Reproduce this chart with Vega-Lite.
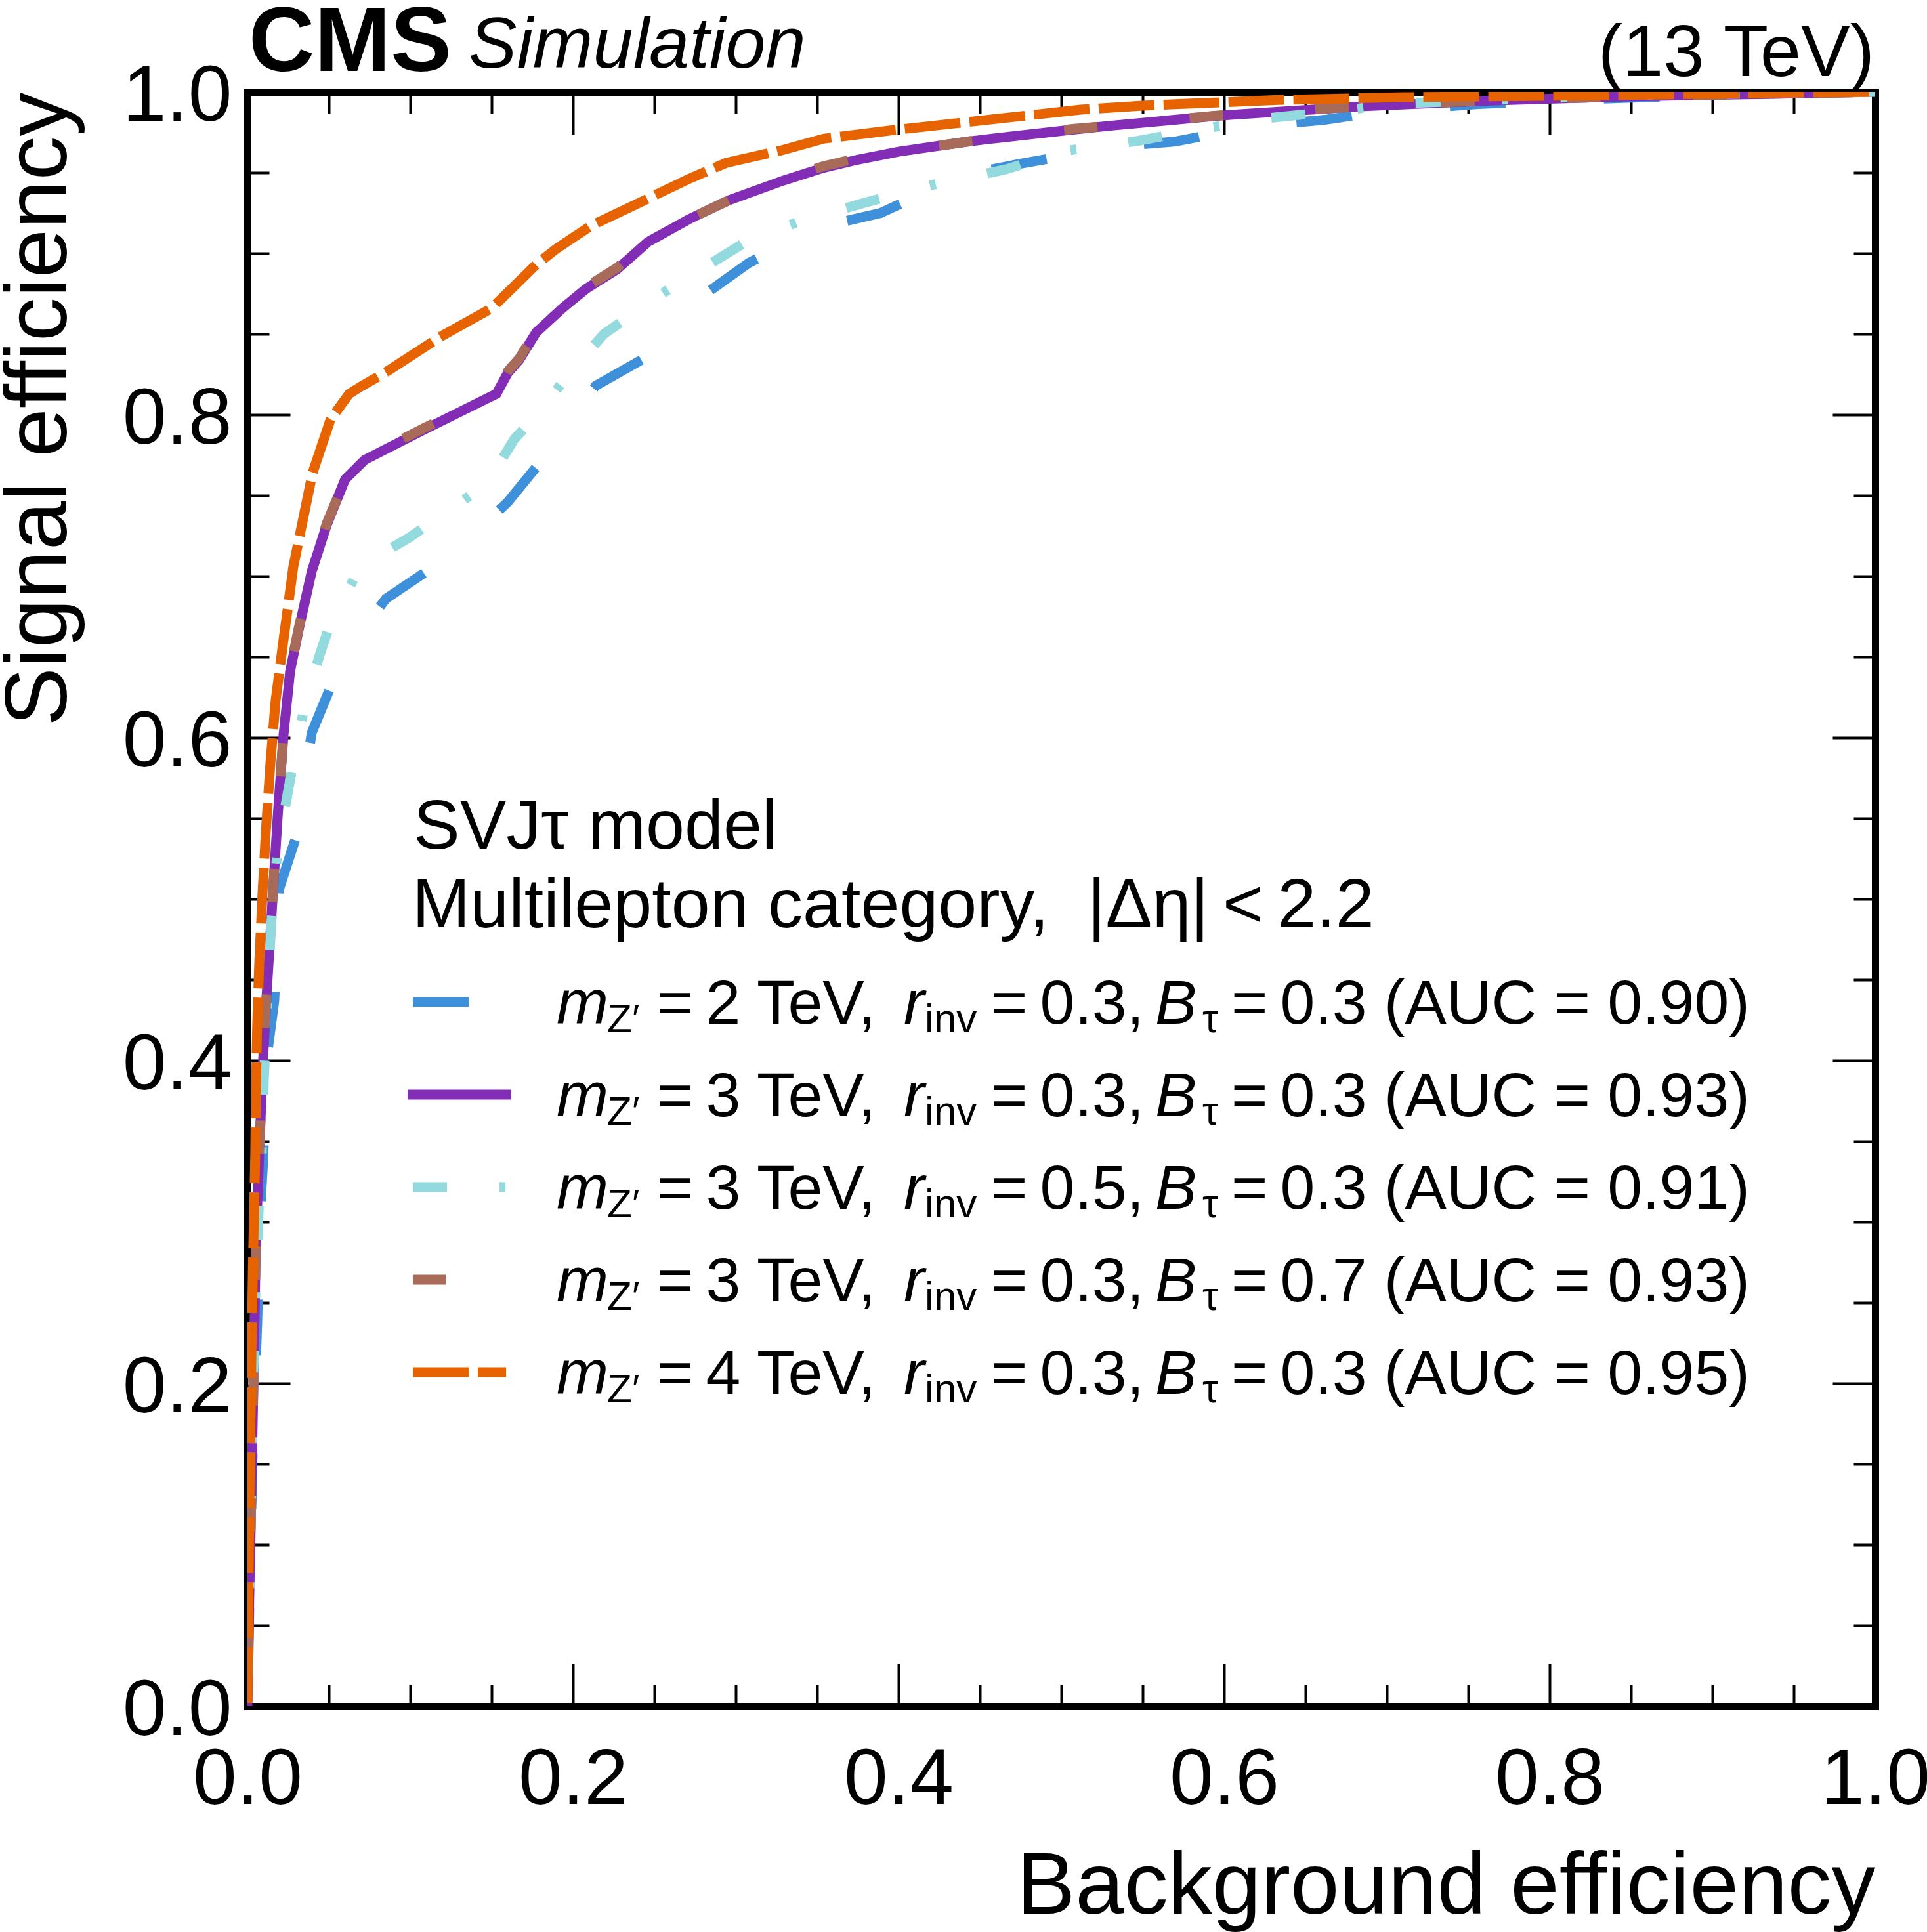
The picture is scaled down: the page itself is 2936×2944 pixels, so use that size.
{
    "$schema": "https://vega.github.io/schema/vega-lite/v6.json",
    "autosize": {"type": "none"},
    "padding": {"left": 377, "top": 140, "right": 79, "bottom": 344},
    "width": 2480,
    "height": 2460,
    "background": "white",
    "datasets": {
        "roc": [
            {"series": "mz2_rinv03_bt03", "x": 0, "y": 0},
            {"series": "mz2_rinv03_bt03", "x": 0.0008, "y": 0.04},
            {"series": "mz2_rinv03_bt03", "x": 0.0015, "y": 0.08},
            {"series": "mz2_rinv03_bt03", "x": 0.003, "y": 0.15},
            {"series": "mz2_rinv03_bt03", "x": 0.0048, "y": 0.203},
            {"series": "mz2_rinv03_bt03", "x": 0.006, "y": 0.237},
            {"series": "mz2_rinv03_bt03", "x": 0.0077, "y": 0.303},
            {"series": "mz2_rinv03_bt03", "x": 0.0095, "y": 0.335},
            {"series": "mz2_rinv03_bt03", "x": 0.0125, "y": 0.4065},
            {"series": "mz2_rinv03_bt03", "x": 0.0165, "y": 0.437},
            {"series": "mz2_rinv03_bt03", "x": 0.0194, "y": 0.506},
            {"series": "mz2_rinv03_bt03", "x": 0.0294, "y": 0.537},
            {"series": "mz2_rinv03_bt03", "x": 0.0395, "y": 0.603},
            {"series": "mz2_rinv03_bt03", "x": 0.0524, "y": 0.6346},
            {"series": "mz2_rinv03_bt03", "x": 0.068, "y": 0.663},
            {"series": "mz2_rinv03_bt03", "x": 0.085, "y": 0.686},
            {"series": "mz2_rinv03_bt03", "x": 0.113, "y": 0.705},
            {"series": "mz2_rinv03_bt03", "x": 0.137, "y": 0.724},
            {"series": "mz2_rinv03_bt03", "x": 0.16, "y": 0.746},
            {"series": "mz2_rinv03_bt03", "x": 0.181, "y": 0.772},
            {"series": "mz2_rinv03_bt03", "x": 0.198, "y": 0.797},
            {"series": "mz2_rinv03_bt03", "x": 0.214, "y": 0.818},
            {"series": "mz2_rinv03_bt03", "x": 0.242, "y": 0.834},
            {"series": "mz2_rinv03_bt03", "x": 0.262, "y": 0.856},
            {"series": "mz2_rinv03_bt03", "x": 0.283, "y": 0.876},
            {"series": "mz2_rinv03_bt03", "x": 0.308, "y": 0.894},
            {"series": "mz2_rinv03_bt03", "x": 0.333, "y": 0.907},
            {"series": "mz2_rinv03_bt03", "x": 0.358, "y": 0.9177},
            {"series": "mz2_rinv03_bt03", "x": 0.389, "y": 0.925},
            {"series": "mz2_rinv03_bt03", "x": 0.415, "y": 0.937},
            {"series": "mz2_rinv03_bt03", "x": 0.4435, "y": 0.9492},
            {"series": "mz2_rinv03_bt03", "x": 0.474, "y": 0.9553},
            {"series": "mz2_rinv03_bt03", "x": 0.505, "y": 0.961},
            {"series": "mz2_rinv03_bt03", "x": 0.5375, "y": 0.9665},
            {"series": "mz2_rinv03_bt03", "x": 0.57, "y": 0.9693},
            {"series": "mz2_rinv03_bt03", "x": 0.6, "y": 0.975},
            {"series": "mz2_rinv03_bt03", "x": 0.6315, "y": 0.9799},
            {"series": "mz2_rinv03_bt03", "x": 0.662, "y": 0.9827},
            {"series": "mz2_rinv03_bt03", "x": 0.69, "y": 0.987},
            {"series": "mz2_rinv03_bt03", "x": 0.7234, "y": 0.99},
            {"series": "mz2_rinv03_bt03", "x": 0.756, "y": 0.9925},
            {"series": "mz2_rinv03_bt03", "x": 0.79, "y": 0.994},
            {"series": "mz2_rinv03_bt03", "x": 0.822, "y": 0.9955},
            {"series": "mz2_rinv03_bt03", "x": 0.854, "y": 0.9965},
            {"series": "mz2_rinv03_bt03", "x": 0.92, "y": 0.9985},
            {"series": "mz2_rinv03_bt03", "x": 1, "y": 1},

            {"series": "mz3_rinv03_bt03", "x": 0, "y": 0},
            {"series": "mz3_rinv03_bt03", "x": 0.001, "y": 0.06},
            {"series": "mz3_rinv03_bt03", "x": 0.002, "y": 0.11},
            {"series": "mz3_rinv03_bt03", "x": 0.003, "y": 0.163},
            {"series": "mz3_rinv03_bt03", "x": 0.004, "y": 0.217},
            {"series": "mz3_rinv03_bt03", "x": 0.0052, "y": 0.29},
            {"series": "mz3_rinv03_bt03", "x": 0.0073, "y": 0.343},
            {"series": "mz3_rinv03_bt03", "x": 0.0093, "y": 0.3947},
            {"series": "mz3_rinv03_bt03", "x": 0.0121, "y": 0.446},
            {"series": "mz3_rinv03_bt03", "x": 0.0153, "y": 0.498},
            {"series": "mz3_rinv03_bt03", "x": 0.0185, "y": 0.55},
            {"series": "mz3_rinv03_bt03", "x": 0.0222, "y": 0.602},
            {"series": "mz3_rinv03_bt03", "x": 0.0262, "y": 0.641},
            {"series": "mz3_rinv03_bt03", "x": 0.0315, "y": 0.667},
            {"series": "mz3_rinv03_bt03", "x": 0.0395, "y": 0.703},
            {"series": "mz3_rinv03_bt03", "x": 0.0488, "y": 0.732},
            {"series": "mz3_rinv03_bt03", "x": 0.06, "y": 0.76},
            {"series": "mz3_rinv03_bt03", "x": 0.072, "y": 0.772},
            {"series": "mz3_rinv03_bt03", "x": 0.109, "y": 0.791},
            {"series": "mz3_rinv03_bt03", "x": 0.153, "y": 0.813},
            {"series": "mz3_rinv03_bt03", "x": 0.16, "y": 0.826},
            {"series": "mz3_rinv03_bt03", "x": 0.167, "y": 0.834},
            {"series": "mz3_rinv03_bt03", "x": 0.1774, "y": 0.851},
            {"series": "mz3_rinv03_bt03", "x": 0.1935, "y": 0.866},
            {"series": "mz3_rinv03_bt03", "x": 0.208, "y": 0.878},
            {"series": "mz3_rinv03_bt03", "x": 0.227, "y": 0.89},
            {"series": "mz3_rinv03_bt03", "x": 0.246, "y": 0.907},
            {"series": "mz3_rinv03_bt03", "x": 0.271, "y": 0.921},
            {"series": "mz3_rinv03_bt03", "x": 0.296, "y": 0.933},
            {"series": "mz3_rinv03_bt03", "x": 0.329, "y": 0.945},
            {"series": "mz3_rinv03_bt03", "x": 0.354, "y": 0.953},
            {"series": "mz3_rinv03_bt03", "x": 0.375, "y": 0.958},
            {"series": "mz3_rinv03_bt03", "x": 0.4, "y": 0.963},
            {"series": "mz3_rinv03_bt03", "x": 0.441, "y": 0.969},
            {"series": "mz3_rinv03_bt03", "x": 0.4528, "y": 0.9705},
            {"series": "mz3_rinv03_bt03", "x": 0.507, "y": 0.9766},
            {"series": "mz3_rinv03_bt03", "x": 0.53, "y": 0.979},
            {"series": "mz3_rinv03_bt03", "x": 0.594, "y": 0.985},
            {"series": "mz3_rinv03_bt03", "x": 0.607, "y": 0.986},
            {"series": "mz3_rinv03_bt03", "x": 0.684, "y": 0.991},
            {"series": "mz3_rinv03_bt03", "x": 0.761, "y": 0.9945},
            {"series": "mz3_rinv03_bt03", "x": 0.839, "y": 0.997},
            {"series": "mz3_rinv03_bt03", "x": 0.92, "y": 0.9985},
            {"series": "mz3_rinv03_bt03", "x": 1, "y": 1},

            {"series": "mz3_rinv05_bt03", "x": 0, "y": 0},
            {"series": "mz3_rinv05_bt03", "x": 0.001, "y": 0.05},
            {"series": "mz3_rinv05_bt03", "x": 0.002, "y": 0.12},
            {"series": "mz3_rinv05_bt03", "x": 0.0035, "y": 0.2},
            {"series": "mz3_rinv05_bt03", "x": 0.005, "y": 0.26},
            {"series": "mz3_rinv05_bt03", "x": 0.007, "y": 0.31},
            {"series": "mz3_rinv05_bt03", "x": 0.0088, "y": 0.343},
            {"series": "mz3_rinv05_bt03", "x": 0.0101, "y": 0.388},
            {"series": "mz3_rinv05_bt03", "x": 0.0121, "y": 0.435},
            {"series": "mz3_rinv05_bt03", "x": 0.0145, "y": 0.483},
            {"series": "mz3_rinv05_bt03", "x": 0.0185, "y": 0.531},
            {"series": "mz3_rinv05_bt03", "x": 0.0266, "y": 0.576},
            {"series": "mz3_rinv05_bt03", "x": 0.0355, "y": 0.6215},
            {"series": "mz3_rinv05_bt03", "x": 0.044, "y": 0.65},
            {"series": "mz3_rinv05_bt03", "x": 0.0496, "y": 0.667},
            {"series": "mz3_rinv05_bt03", "x": 0.0565, "y": 0.68},
            {"series": "mz3_rinv05_bt03", "x": 0.069, "y": 0.706},
            {"series": "mz3_rinv05_bt03", "x": 0.0996, "y": 0.724},
            {"series": "mz3_rinv05_bt03", "x": 0.118, "y": 0.737},
            {"series": "mz3_rinv05_bt03", "x": 0.147, "y": 0.757},
            {"series": "mz3_rinv05_bt03", "x": 0.164, "y": 0.785},
            {"series": "mz3_rinv05_bt03", "x": 0.178, "y": 0.8},
            {"series": "mz3_rinv05_bt03", "x": 0.198, "y": 0.826},
            {"series": "mz3_rinv05_bt03", "x": 0.219, "y": 0.85},
            {"series": "mz3_rinv05_bt03", "x": 0.2375, "y": 0.863},
            {"series": "mz3_rinv05_bt03", "x": 0.262, "y": 0.88},
            {"series": "mz3_rinv05_bt03", "x": 0.29, "y": 0.897},
            {"series": "mz3_rinv05_bt03", "x": 0.306, "y": 0.907},
            {"series": "mz3_rinv05_bt03", "x": 0.337, "y": 0.919},
            {"series": "mz3_rinv05_bt03", "x": 0.378, "y": 0.931},
            {"series": "mz3_rinv05_bt03", "x": 0.419, "y": 0.942},
            {"series": "mz3_rinv05_bt03", "x": 0.466, "y": 0.952},
            {"series": "mz3_rinv05_bt03", "x": 0.502, "y": 0.9634},
            {"series": "mz3_rinv05_bt03", "x": 0.546, "y": 0.9695},
            {"series": "mz3_rinv05_bt03", "x": 0.59, "y": 0.9776},
            {"series": "mz3_rinv05_bt03", "x": 0.627, "y": 0.9837},
            {"series": "mz3_rinv05_bt03", "x": 0.677, "y": 0.989},
            {"series": "mz3_rinv05_bt03", "x": 0.706, "y": 0.9927},
            {"series": "mz3_rinv05_bt03", "x": 0.765, "y": 0.995},
            {"series": "mz3_rinv05_bt03", "x": 0.85, "y": 0.998},
            {"series": "mz3_rinv05_bt03", "x": 1, "y": 1},

            {"series": "mz3_rinv03_bt07", "x": 0, "y": 0},
            {"series": "mz3_rinv03_bt07", "x": 0.001, "y": 0.061},
            {"series": "mz3_rinv03_bt07", "x": 0.002, "y": 0.112},
            {"series": "mz3_rinv03_bt07", "x": 0.003, "y": 0.165},
            {"series": "mz3_rinv03_bt07", "x": 0.004, "y": 0.219},
            {"series": "mz3_rinv03_bt07", "x": 0.0052, "y": 0.292},
            {"series": "mz3_rinv03_bt07", "x": 0.0073, "y": 0.345},
            {"series": "mz3_rinv03_bt07", "x": 0.0093, "y": 0.396},
            {"series": "mz3_rinv03_bt07", "x": 0.0121, "y": 0.447},
            {"series": "mz3_rinv03_bt07", "x": 0.0153, "y": 0.499},
            {"series": "mz3_rinv03_bt07", "x": 0.0185, "y": 0.551},
            {"series": "mz3_rinv03_bt07", "x": 0.0222, "y": 0.603},
            {"series": "mz3_rinv03_bt07", "x": 0.0262, "y": 0.642},
            {"series": "mz3_rinv03_bt07", "x": 0.0315, "y": 0.668},
            {"series": "mz3_rinv03_bt07", "x": 0.0395, "y": 0.704},
            {"series": "mz3_rinv03_bt07", "x": 0.0488, "y": 0.733},
            {"series": "mz3_rinv03_bt07", "x": 0.06, "y": 0.76},
            {"series": "mz3_rinv03_bt07", "x": 0.072, "y": 0.773},
            {"series": "mz3_rinv03_bt07", "x": 0.109, "y": 0.792},
            {"series": "mz3_rinv03_bt07", "x": 0.153, "y": 0.814},
            {"series": "mz3_rinv03_bt07", "x": 0.16, "y": 0.827},
            {"series": "mz3_rinv03_bt07", "x": 0.167, "y": 0.835},
            {"series": "mz3_rinv03_bt07", "x": 0.1774, "y": 0.852},
            {"series": "mz3_rinv03_bt07", "x": 0.1935, "y": 0.866},
            {"series": "mz3_rinv03_bt07", "x": 0.208, "y": 0.879},
            {"series": "mz3_rinv03_bt07", "x": 0.227, "y": 0.891},
            {"series": "mz3_rinv03_bt07", "x": 0.246, "y": 0.908},
            {"series": "mz3_rinv03_bt07", "x": 0.271, "y": 0.921},
            {"series": "mz3_rinv03_bt07", "x": 0.296, "y": 0.933},
            {"series": "mz3_rinv03_bt07", "x": 0.329, "y": 0.946},
            {"series": "mz3_rinv03_bt07", "x": 0.354, "y": 0.954},
            {"series": "mz3_rinv03_bt07", "x": 0.375, "y": 0.959},
            {"series": "mz3_rinv03_bt07", "x": 0.4, "y": 0.963},
            {"series": "mz3_rinv03_bt07", "x": 0.441, "y": 0.969},
            {"series": "mz3_rinv03_bt07", "x": 0.4528, "y": 0.971},
            {"series": "mz3_rinv03_bt07", "x": 0.507, "y": 0.977},
            {"series": "mz3_rinv03_bt07", "x": 0.53, "y": 0.979},
            {"series": "mz3_rinv03_bt07", "x": 0.594, "y": 0.9852},
            {"series": "mz3_rinv03_bt07", "x": 0.607, "y": 0.9862},
            {"series": "mz3_rinv03_bt07", "x": 0.684, "y": 0.991},
            {"series": "mz3_rinv03_bt07", "x": 0.761, "y": 0.9947},
            {"series": "mz3_rinv03_bt07", "x": 0.839, "y": 0.997},
            {"series": "mz3_rinv03_bt07", "x": 0.92, "y": 0.9985},
            {"series": "mz3_rinv03_bt07", "x": 1, "y": 1},

            {"series": "mz4_rinv03_bt03", "x": 0, "y": 0},
            {"series": "mz4_rinv03_bt03", "x": 0.0007, "y": 0.08},
            {"series": "mz4_rinv03_bt03", "x": 0.0015, "y": 0.15},
            {"series": "mz4_rinv03_bt03", "x": 0.0025, "y": 0.22},
            {"series": "mz4_rinv03_bt03", "x": 0.0035, "y": 0.28},
            {"series": "mz4_rinv03_bt03", "x": 0.0048, "y": 0.343},
            {"series": "mz4_rinv03_bt03", "x": 0.0052, "y": 0.382},
            {"series": "mz4_rinv03_bt03", "x": 0.006, "y": 0.423},
            {"series": "mz4_rinv03_bt03", "x": 0.0073, "y": 0.462},
            {"series": "mz4_rinv03_bt03", "x": 0.0093, "y": 0.504},
            {"series": "mz4_rinv03_bt03", "x": 0.0113, "y": 0.542},
            {"series": "mz4_rinv03_bt03", "x": 0.0141, "y": 0.584},
            {"series": "mz4_rinv03_bt03", "x": 0.0173, "y": 0.623},
            {"series": "mz4_rinv03_bt03", "x": 0.0226, "y": 0.664},
            {"series": "mz4_rinv03_bt03", "x": 0.0282, "y": 0.706},
            {"series": "mz4_rinv03_bt03", "x": 0.0335, "y": 0.732},
            {"series": "mz4_rinv03_bt03", "x": 0.04, "y": 0.764},
            {"series": "mz4_rinv03_bt03", "x": 0.051, "y": 0.797},
            {"series": "mz4_rinv03_bt03", "x": 0.0625, "y": 0.813},
            {"series": "mz4_rinv03_bt03", "x": 0.0706, "y": 0.818},
            {"series": "mz4_rinv03_bt03", "x": 0.086, "y": 0.827},
            {"series": "mz4_rinv03_bt03", "x": 0.118, "y": 0.848},
            {"series": "mz4_rinv03_bt03", "x": 0.15, "y": 0.866},
            {"series": "mz4_rinv03_bt03", "x": 0.1774, "y": 0.893},
            {"series": "mz4_rinv03_bt03", "x": 0.19, "y": 0.903},
            {"series": "mz4_rinv03_bt03", "x": 0.211, "y": 0.917},
            {"series": "mz4_rinv03_bt03", "x": 0.238, "y": 0.93},
            {"series": "mz4_rinv03_bt03", "x": 0.271, "y": 0.946},
            {"series": "mz4_rinv03_bt03", "x": 0.294, "y": 0.956},
            {"series": "mz4_rinv03_bt03", "x": 0.329, "y": 0.964},
            {"series": "mz4_rinv03_bt03", "x": 0.354, "y": 0.971},
            {"series": "mz4_rinv03_bt03", "x": 0.3976, "y": 0.9764},
            {"series": "mz4_rinv03_bt03", "x": 0.472, "y": 0.9846},
            {"series": "mz4_rinv03_bt03", "x": 0.512, "y": 0.989},
            {"series": "mz4_rinv03_bt03", "x": 0.55, "y": 0.9915},
            {"series": "mz4_rinv03_bt03", "x": 0.633, "y": 0.995},
            {"series": "mz4_rinv03_bt03", "x": 0.71, "y": 0.9967},
            {"series": "mz4_rinv03_bt03", "x": 0.839, "y": 0.998},
            {"series": "mz4_rinv03_bt03", "x": 1, "y": 1}
        ],
        "legend": [
            {"series": "mz2_rinv03_bt03", "mass": "=\u20092 TeV,", "rinv": "=\u20090.3,", "rest": "=\u20090.3 (AUC = 0.90)"},
            {"series": "mz3_rinv03_bt03", "mass": "=\u20093 TeV,", "rinv": "=\u20090.3,", "rest": "=\u20090.3 (AUC = 0.93)"},
            {"series": "mz3_rinv05_bt03", "mass": "=\u20093 TeV,", "rinv": "=\u20090.5,", "rest": "=\u20090.3 (AUC = 0.91)"},
            {"series": "mz3_rinv03_bt07", "mass": "=\u20093 TeV,", "rinv": "=\u20090.3,", "rest": "=\u20090.7 (AUC = 0.93)"},
            {"series": "mz4_rinv03_bt03", "mass": "=\u20094 TeV,", "rinv": "=\u20090.3,", "rest": "=\u20090.3 (AUC = 0.95)"}
        ]
    },
    "layer": [
        {
            "layer": [
                {
                    "data": {"name": "roc"},
                    "transform": [{"filter": "datum.series === 'mz2_rinv03_bt03'"}],
                    "mark": {"type": "line", "color": "#3f90da", "strokeWidth": 15, "strokeDash": [85, 150], "strokeDashOffset": 170, "clip": true},
                    "encoding": {
                        "x": {
                            "field": "x", "type": "quantitative",
                            "scale": {"domain": [0, 1], "nice": false, "zero": false},
                            "axis": {
                                "orient": "bottom", "values": [0, 0.2, 0.4, 0.6, 0.8, 1], "format": ".1f",
                                "tickSize": -65, "labelPadding": 118, "domain": true,
                                "title": "Background efficiency", "titleX": 2480, "titleY": 315,
                                "titleAlign": "right", "titleBaseline": "alphabetic", "titleAngle": 0
                            }
                        },
                        "y": {
                            "field": "y", "type": "quantitative",
                            "scale": {"domain": [0, 1], "nice": false, "zero": false},
                            "axis": {
                                "orient": "left", "values": [0, 0.2, 0.4, 0.6, 0.8, 1], "format": ".1f",
                                "tickSize": -65, "labelPadding": 89, "labelOffset": 7, "domain": true,
                                "title": "Signal efficiency", "titleX": -277, "titleY": 0,
                                "titleAlign": "right", "titleBaseline": "alphabetic", "titleAngle": -90
                            }
                        }
                    }
                },
                {
                    "data": {"name": "roc"},
                    "transform": [{"filter": "datum.series === 'mz3_rinv03_bt03'"}],
                    "mark": {"type": "line", "color": "#832db6", "strokeWidth": 15, "clip": true},
                    "encoding": {
                        "x": {
                            "field": "x", "type": "quantitative",
                            "scale": {"domain": [0, 1], "nice": false, "zero": false},
                            "axis": {
                                "orient": "bottom",
                                "values": [0.05, 0.1, 0.15, 0.25, 0.3, 0.35, 0.45, 0.5, 0.55, 0.65, 0.7, 0.75, 0.85, 0.9, 0.95],
                                "tickSize": -33, "labels": false, "domain": false, "title": null
                            }
                        },
                        "y": {
                            "field": "y", "type": "quantitative",
                            "scale": {"domain": [0, 1], "nice": false, "zero": false},
                            "axis": {
                                "orient": "left",
                                "values": [0.05, 0.1, 0.15, 0.25, 0.3, 0.35, 0.45, 0.5, 0.55, 0.65, 0.7, 0.75, 0.85, 0.9, 0.95],
                                "tickSize": -33, "labels": false, "domain": false, "title": null
                            }
                        }
                    }
                },
                {
                    "data": {"name": "roc"},
                    "transform": [{"filter": "datum.series === 'mz3_rinv05_bt03'"}],
                    "mark": {"type": "line", "color": "#92dadd", "strokeWidth": 15, "strokeDash": [52, 80, 9, 80], "strokeDashOffset": 173, "clip": true},
                    "encoding": {
                        "x": {
                            "field": "x", "type": "quantitative",
                            "scale": {"domain": [0, 1], "nice": false, "zero": false},
                            "axis": {
                                "orient": "top", "values": [0, 0.2, 0.4, 0.6, 0.8, 1],
                                "tickSize": -65, "labels": false, "domain": true, "title": null
                            }
                        },
                        "y": {
                            "field": "y", "type": "quantitative",
                            "scale": {"domain": [0, 1], "nice": false, "zero": false},
                            "axis": {
                                "orient": "right", "values": [0, 0.2, 0.4, 0.6, 0.8, 1],
                                "tickSize": -65, "labels": false, "domain": true, "title": null
                            }
                        }
                    }
                },
                {
                    "data": {"name": "roc"},
                    "transform": [{"filter": "datum.series === 'mz3_rinv03_bt07'"}],
                    "mark": {"type": "line", "color": "#a96b59", "strokeWidth": 15, "strokeDash": [51, 141], "strokeDashOffset": 118, "clip": true},
                    "encoding": {
                        "x": {
                            "field": "x", "type": "quantitative",
                            "scale": {"domain": [0, 1], "nice": false, "zero": false},
                            "axis": {
                                "orient": "top",
                                "values": [0.05, 0.1, 0.15, 0.25, 0.3, 0.35, 0.45, 0.5, 0.55, 0.65, 0.7, 0.75, 0.85, 0.9, 0.95],
                                "tickSize": -33, "labels": false, "domain": false, "title": null
                            }
                        },
                        "y": {
                            "field": "y", "type": "quantitative",
                            "scale": {"domain": [0, 1], "nice": false, "zero": false},
                            "axis": {
                                "orient": "right",
                                "values": [0.05, 0.1, 0.15, 0.25, 0.3, 0.35, 0.45, 0.5, 0.55, 0.65, 0.7, 0.75, 0.85, 0.9, 0.95],
                                "tickSize": -33, "labels": false, "domain": false, "title": null
                            }
                        }
                    }
                },
                {
                    "data": {"name": "roc"},
                    "transform": [{"filter": "datum.series === 'mz4_rinv03_bt03'"}],
                    "mark": {"type": "line", "color": "#e76300", "strokeWidth": 15, "strokeDash": [85, 14], "strokeDashOffset": 94, "clip": true},
                    "encoding": {
                        "x": {"field": "x", "type": "quantitative", "scale": {"domain": [0, 1], "nice": false, "zero": false}, "axis": null},
                        "y": {"field": "y", "type": "quantitative", "scale": {"domain": [0, 1], "nice": false, "zero": false}, "axis": null}
                    }
                },
                {
                    "data": {"values": [{"label": "CMS"}]},
                    "mark": {"type": "text", "fontWeight": "bold", "fontSize": 139, "align": "left", "baseline": "alphabetic"},
                    "encoding": {
                        "x": {"datum": 0.0008, "scale": {"domain": [0, 1], "nice": false, "zero": false}, "axis": null},
                        "y": {"datum": 1.013, "scale": {"domain": [0, 1], "nice": false, "zero": false}, "axis": null},
                        "text": {"field": "label"}
                    }
                },
                {
                    "data": {"values": [{"label": "Simulation"}]},
                    "mark": {"type": "text", "fontStyle": "italic", "fontSize": 110, "align": "left", "baseline": "alphabetic"},
                    "encoding": {
                        "x": {"datum": 0.1359, "scale": {"domain": [0, 1], "nice": false, "zero": false}, "axis": null},
                        "y": {"datum": 1.015, "scale": {"domain": [0, 1], "nice": false, "zero": false}, "axis": null},
                        "text": {"field": "label"}
                    }
                },
                {
                    "data": {"values": [{"label": "(13 TeV)"}]},
                    "mark": {"type": "text", "fontSize": 112, "align": "right", "baseline": "alphabetic"},
                    "encoding": {
                        "x": {"datum": 0.9996, "scale": {"domain": [0, 1], "nice": false, "zero": false}, "axis": null},
                        "y": {"datum": 1.0098, "scale": {"domain": [0, 1], "nice": false, "zero": false}, "axis": null},
                        "text": {"field": "label"}
                    }
                },
                {
                    "data": {"values": [{"label": "SVJτ model"}]},
                    "mark": {"type": "text", "fontSize": 106, "align": "left", "baseline": "alphabetic"},
                    "encoding": {
                        "x": {"datum": 0.102, "scale": {"domain": [0, 1], "nice": false, "zero": false}, "axis": null},
                        "y": {"datum": 0.5313, "scale": {"domain": [0, 1], "nice": false, "zero": false}, "axis": null},
                        "text": {"field": "label"}
                    }
                },
                {
                    "data": {"values": [{"label": "Multilepton category,\u00a0 |Δη|\u2009<\u20092.2"}]},
                    "mark": {"type": "text", "fontSize": 106, "align": "left", "baseline": "alphabetic"},
                    "encoding": {
                        "x": {"datum": 0.1012, "scale": {"domain": [0, 1], "nice": false, "zero": false}, "axis": null},
                        "y": {"datum": 0.4825, "scale": {"domain": [0, 1], "nice": false, "zero": false}, "axis": null},
                        "text": {"field": "label"}
                    }
                }
            ],
            "resolve": {"axis": {"x": "independent", "y": "independent"}}
        },
        {
            "data": {"name": "legend"},
            "encoding": {
                "y": {
                    "field": "series", "type": "nominal",
                    "scale": {
                        "type": "point",
                        "domain": ["mz2_rinv03_bt03", "mz3_rinv03_bt03", "mz3_rinv05_bt03", "mz3_rinv03_bt07", "mz4_rinv03_bt03"],
                        "range": [1387, 1951], "padding": 0
                    },
                    "axis": null
                }
            },
            "layer": [
                {
                    "transform": [{"filter": "datum.series !== 'mz3_rinv03_bt03'"}],
                    "mark": {"type": "rule", "strokeWidth": 15},
                    "encoding": {
                        "x": {"datum": 0.1016, "scale": {"domain": [0, 1], "nice": false, "zero": false}, "axis": null},
                        "x2": {"datum": 0.1589},
                        "color": {
                            "field": "series", "type": "nominal", "legend": null,
                            "scale": {
                                "domain": ["mz2_rinv03_bt03", "mz3_rinv05_bt03", "mz3_rinv03_bt07", "mz4_rinv03_bt03"],
                                "range": ["#3f90da", "#92dadd", "#a96b59", "#e76300"]
                            }
                        },
                        "strokeDash": {
                            "field": "series", "type": "nominal", "legend": null,
                            "scale": {
                                "domain": ["mz2_rinv03_bt03", "mz3_rinv05_bt03", "mz3_rinv03_bt07", "mz4_rinv03_bt03"],
                                "range": [[85, 150], [52, 80, 9, 80], [51, 141], [85, 14]]
                            }
                        }
                    }
                },
                {
                    "transform": [{"filter": "datum.series === 'mz3_rinv03_bt03'"}],
                    "mark": {"type": "rule", "strokeWidth": 15, "color": "#832db6", "strokeCap": "square"},
                    "encoding": {
                        "x": {"datum": 0.1016, "scale": {"domain": [0, 1], "nice": false, "zero": false}, "axis": null},
                        "x2": {"datum": 0.1589}
                    }
                },
                {
                    "mark": {"type": "text", "text": "m", "fontStyle": "italic", "fontSize": 95, "align": "left", "baseline": "alphabetic", "dy": 33},
                    "encoding": {"x": {"datum": 0.1899, "scale": {"domain": [0, 1], "nice": false, "zero": false}, "axis": null}}
                },
                {
                    "mark": {"type": "text", "text": "Z′", "fontSize": 62, "align": "left", "baseline": "alphabetic", "dy": 46},
                    "encoding": {"x": {"datum": 0.221, "scale": {"domain": [0, 1], "nice": false, "zero": false}, "axis": null}}
                },
                {
                    "mark": {"type": "text", "fontSize": 95, "align": "left", "baseline": "alphabetic", "dy": 33},
                    "encoding": {
                        "x": {"datum": 0.2516, "scale": {"domain": [0, 1], "nice": false, "zero": false}, "axis": null},
                        "text": {"field": "mass"}
                    }
                },
                {
                    "mark": {"type": "text", "text": "r", "fontStyle": "italic", "fontSize": 95, "align": "left", "baseline": "alphabetic", "dy": 33},
                    "encoding": {"x": {"datum": 0.4032, "scale": {"domain": [0, 1], "nice": false, "zero": false}, "axis": null}}
                },
                {
                    "mark": {"type": "text", "text": "inv", "fontSize": 62, "align": "left", "baseline": "alphabetic", "dy": 46},
                    "encoding": {"x": {"datum": 0.4161, "scale": {"domain": [0, 1], "nice": false, "zero": false}, "axis": null}}
                },
                {
                    "mark": {"type": "text", "fontSize": 95, "align": "left", "baseline": "alphabetic", "dy": 33},
                    "encoding": {
                        "x": {"datum": 0.4569, "scale": {"domain": [0, 1], "nice": false, "zero": false}, "axis": null},
                        "text": {"field": "rinv"}
                    }
                },
                {
                    "mark": {"type": "text", "text": "B", "fontStyle": "italic", "fontSize": 95, "align": "left", "baseline": "alphabetic", "dy": 33},
                    "encoding": {"x": {"datum": 0.5577, "scale": {"domain": [0, 1], "nice": false, "zero": false}, "axis": null}}
                },
                {
                    "mark": {"type": "text", "text": "τ", "fontSize": 62, "align": "left", "baseline": "alphabetic", "dy": 46},
                    "encoding": {"x": {"datum": 0.5867, "scale": {"domain": [0, 1], "nice": false, "zero": false}, "axis": null}}
                },
                {
                    "mark": {"type": "text", "fontSize": 95, "align": "left", "baseline": "alphabetic", "dy": 33},
                    "encoding": {
                        "x": {"datum": 0.6044, "scale": {"domain": [0, 1], "nice": false, "zero": false}, "axis": null},
                        "text": {"field": "rest"}
                    }
                }
            ]
        }
    ],
    "resolve": {"scale": {"y": "independent"}},
    "config": {
        "view": {"stroke": null},
        "font": "Liberation Sans",
        "text": {"font": "Liberation Sans", "color": "black"},
        "axis": {
            "labelFont": "Liberation Sans",
            "labelFontSize": 120,
            "labelColor": "black",
            "labelFlush": false,
            "labelOverlap": false,
            "tickColor": "black",
            "tickWidth": 4,
            "domainColor": "black",
            "domainWidth": 11,
            "domainCap": "square",
            "grid": false,
            "titleFont": "Liberation Sans",
            "titleFontSize": 134,
            "titleFontWeight": "normal",
            "titleColor": "black",
            "titlePadding": 0,
            "zindex": 1
        }
    }
}
